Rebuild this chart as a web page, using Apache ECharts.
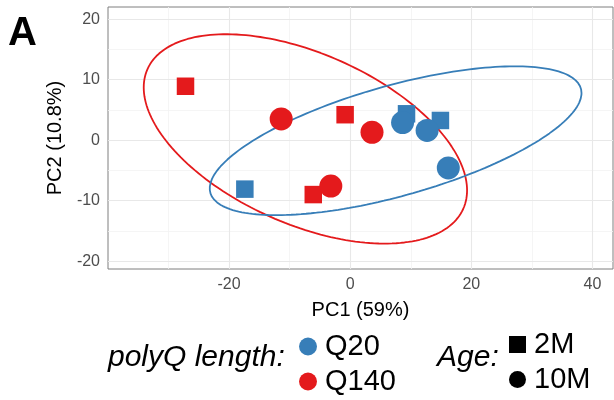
<!DOCTYPE html>
<html><head><meta charset="utf-8">
<script src="https://cdn.jsdelivr.net/npm/echarts@6/dist/echarts.min.js"></script>
<style>html,body{margin:0;padding:0;background:#fff}#c{width:614px;height:400px}</style>
</head><body><div id="c"></div>
<script>
// ---- data ----
const xMajorTicks = [-20, 0, 20, 40];
const xMinorTicks = [-30, -10, 10, 30];
const yMajorTicks = [-20, -10, 0, 10, 20];
const yMinorTicks = [-15, -5, 5, 15];
const xRange = [-40, 43.4];
const yRange = [-21.3, 22];

const q20_2M   = [[-17.4, -8.1], [9.3, 4.35], [14.9, 3.25]];
const q20_10M  = [[8.65, 2.9], [12.7, 1.6], [16.2, -4.6]];
const q140_2M  = [[-27.2, 8.9], [-0.84, 4.2], [-6.1, -9.0]];
const q140_10M = [[-11.4, 3.5], [3.6, 1.3], [-3.2, -7.6]];

// ellipse = centre + A*cos(t) + B*sin(t)
const q20EllipseCenter  = [7.5, -0.1];
const q20EllipseAxisA   = [30.7, 7.88];
const q20EllipseAxisB   = [0, 9.44];
const q140EllipseCenter = [-7.4, 0.2];
const q140EllipseAxisA  = [26.7, -8.5];
const q140EllipseAxisB  = [0, 15.07];

const colorLegend = ['Q20', 'Q140'];
const ageLegend = ['2M', '10M'];

// ---- styles ----
const BLUE = '#377EB8', RED = '#E41A1C';
const FONT = 'Liberation Sans, Arial, sans-serif';

function ellipsePath(c, a, b) {
  const pts = [];
  const n = 200;
  for (let i = 0; i <= n; i++) {
    const t = 2 * Math.PI * i / n;
    pts.push([c[0] + a[0] * Math.cos(t) + b[0] * Math.sin(t),
              c[1] + a[1] * Math.cos(t) + b[1] * Math.sin(t)]);
  }
  return pts;
}

const gridLines = [];
xMinorTicks.forEach(v => gridLines.push({xAxis: v, lineStyle: {color: '#f3f3f3', width: 0.8, type: 'solid'}}));
yMinorTicks.forEach(v => gridLines.push({yAxis: v, lineStyle: {color: '#f3f3f3', width: 0.8, type: 'solid'}}));
xMajorTicks.forEach(v => gridLines.push({xAxis: v, lineStyle: {color: '#e8e8e8', width: 1.1, type: 'solid'}}));
yMajorTicks.forEach(v => gridLines.push({yAxis: v, lineStyle: {color: '#e8e8e8', width: 1.1, type: 'solid'}}));

const chart = echarts.init(document.getElementById('c'), null, {renderer: 'canvas'});

const axisCommon = {
  type: 'value',
  axisLine: {show: false},
  splitLine: {show: false},
  axisTick: {show: true, length: 4, lineStyle: {color: '#555', width: 1}},
  axisLabel: {fontSize: 16, color: '#4d4d4d', fontFamily: FONT, margin: 8},
  nameLocation: 'middle',
  nameTextStyle: {fontSize: 20, color: '#000', fontFamily: FONT}
};

chart.setOption({
  animation: false,
  backgroundColor: '#fff',
  grid: {left: 108, right: 1, top: 7, bottom: 131, show: true, borderColor: '#7f7f7f', borderWidth: 1, backgroundColor: '#fff'},
  xAxis: Object.assign({}, axisCommon, {
    min: xRange[0], max: xRange[1], interval: 20,
    name: 'PC1 (59%)', nameGap: 31,
    axisTick: Object.assign({}, axisCommon.axisTick, {customValues: xMajorTicks}),
    axisLabel: Object.assign({}, axisCommon.axisLabel, {customValues: xMajorTicks})
  }),
  yAxis: Object.assign({}, axisCommon, {
    min: yRange[0], max: yRange[1],
    name: 'PC2 (10.8%)', nameGap: 41,
    axisTick: Object.assign({}, axisCommon.axisTick, {customValues: yMajorTicks}),
    axisLabel: Object.assign({}, axisCommon.axisLabel, {customValues: yMajorTicks})
  }),
  legend: [
    {data: colorLegend, orient: 'vertical', left: 299, top: 332, padding: 0,
     itemWidth: 18, itemHeight: 18, itemGap: 6, icon: 'circle', selectedMode: false,
     itemStyle: {opacity: 1},
     textStyle: {fontSize: 29, color: '#000', fontFamily: FONT, padding: [0, 0, 0, 3]}},
    {data: [{name: ageLegend[0], icon: 'rect'}, {name: ageLegend[1], icon: 'circle'}],
     orient: 'vertical', left: 509, top: 330, padding: 0,
     itemWidth: 17, itemHeight: 17, itemGap: 6, selectedMode: false,
     itemStyle: {opacity: 1},
     textStyle: {fontSize: 29, color: '#000', fontFamily: FONT, padding: [0, 0, 0, 3]}}
  ],
  graphic: [
    {type: 'text', left: 8, top: 14, style: {text: 'A', fontSize: 40, fontWeight: 'bold', fill: '#000', fontFamily: FONT}},
    {type: 'text', x: 108, y: 358, style: {text: 'polyQ length:', fontSize: 30, fontStyle: 'italic', fill: '#000', fontFamily: FONT, verticalAlign: 'middle'}},
    {type: 'text', x: 437, y: 358, style: {text: 'Age:', fontSize: 30, fontStyle: 'italic', fill: '#000', fontFamily: FONT, verticalAlign: 'middle'}}
  ],
  series: [
    {name: 'grid', type: 'line', data: ellipsePath(q140EllipseCenter, q140EllipseAxisA, q140EllipseAxisB),
     showSymbol: false, silent: true, z: 1, lineStyle: {width: 0, opacity: 0},
     markLine: {silent: true, symbol: ['none', 'none'], label: {show: false}, z: 1, animation: false, data: gridLines}},
    {name: 'Q140 ellipse', type: 'line', data: ellipsePath(q140EllipseCenter, q140EllipseAxisA, q140EllipseAxisB),
     showSymbol: false, smooth: false, z: 3, lineStyle: {color: RED, width: 1.8}},
    {name: 'Q20 ellipse', type: 'line', data: ellipsePath(q20EllipseCenter, q20EllipseAxisA, q20EllipseAxisB),
     showSymbol: false, smooth: false, z: 3, lineStyle: {color: BLUE, width: 1.8}},
    {name: 'Q20 2M', type: 'scatter', data: q20_2M, symbol: 'rect', symbolSize: 17.5, z: 4, itemStyle: {color: BLUE, opacity: 1}},
    {name: 'Q140 2M', type: 'scatter', data: q140_2M, symbol: 'rect', symbolSize: 17.5, z: 4, itemStyle: {color: RED, opacity: 1}},
    {name: 'Q20 10M', type: 'scatter', data: q20_10M, symbol: 'circle', symbolSize: 23, z: 5, itemStyle: {color: BLUE, opacity: 1}},
    {name: 'Q140 10M', type: 'scatter', data: q140_10M, symbol: 'circle', symbolSize: 23, z: 5, itemStyle: {color: RED, opacity: 1}},
    {name: colorLegend[0], type: 'scatter', data: [], symbol: 'circle', itemStyle: {color: BLUE, opacity: 1}},
    {name: colorLegend[1], type: 'scatter', data: [], symbol: 'circle', itemStyle: {color: RED, opacity: 1}},
    {name: ageLegend[0], type: 'scatter', data: [], symbol: 'rect', itemStyle: {color: '#000', opacity: 1}},
    {name: ageLegend[1], type: 'scatter', data: [], symbol: 'circle', itemStyle: {color: '#000', opacity: 1}}
  ]
});
</script></body></html>
